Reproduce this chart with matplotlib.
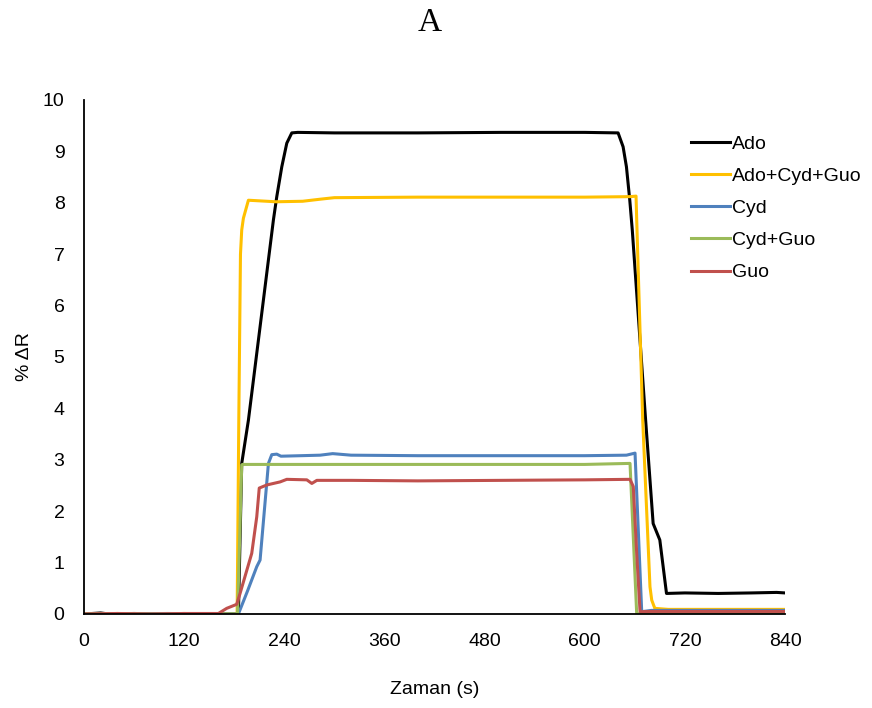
import numpy as np
import matplotlib
matplotlib.use("Agg")
import matplotlib.pyplot as plt

plt.rcParams['font.family'] = ['Liberation Sans', 'DejaVu Sans']

# --- data (time in s, %dR) ---
series_names = ['Ado', 'Ado+Cyd+Guo', 'Cyd', 'Cyd+Guo', 'Guo']
series_colors = ['#000000', '#FFC000', '#4F81BD', '#9BBB59', '#C0504D']

ado_t = [0, 20, 30, 60, 100, 150, 185, 189, 197, 227, 231, 237, 243, 249, 256,
         300, 400, 500, 600, 640, 646, 650, 654, 657, 673, 682, 690, 698,
         720, 760, 800, 830, 840]
ado_v = [0, 0.02, 0, 0.01, 0, 0, 0, 2.93, 3.77, 7.67, 8.12, 8.70, 9.16, 9.36, 9.37,
         9.36, 9.36, 9.37, 9.37, 9.36, 9.09, 8.70, 8.05, 7.47, 3.77, 1.76, 1.44, 0.40,
         0.41, 0.40, 0.41, 0.42, 0.41]

mix_t = [0, 40, 80, 120, 160, 183.5, 185.5, 187.5, 189, 191, 197, 230, 262, 283,
         300, 400, 500, 600, 655, 661.5, 662.3, 669.5, 678.2, 680.3, 684, 700, 760, 840]
mix_v = [0, 0.01, 0, 0.01, 0, 0, 3.8, 7.0, 7.47, 7.7, 8.05, 8.02, 8.03, 8.07,
         8.10, 8.11, 8.11, 8.11, 8.12, 8.13, 7.67, 3.77, 0.53, 0.27, 0.11, 0.09, 0.09, 0.09]

cyd_t = [0, 40, 100, 160, 185, 196, 207, 211, 221, 225, 231, 236, 260, 283, 298,
         320, 400, 500, 600, 650, 660.3, 668.3, 680, 760, 840]
cyd_v = [0, 0, 0.01, 0, 0, 0.45, 0.92, 1.05, 2.93, 3.10, 3.11, 3.07, 3.08, 3.09, 3.12,
         3.09, 3.08, 3.08, 3.08, 3.09, 3.13, 0.045, 0.07, 0.07, 0.07]

cg_t = [0, 60, 120, 184, 189, 190, 300, 400, 500, 600, 654.3, 662.3, 670, 840]
cg_v = [0, 0, 0, 0, 2.9, 2.91, 2.91, 2.91, 2.91, 2.91, 2.93, 0, 0.02, 0.02]

guo_t = [0, 40, 80, 120, 161, 171, 181, 183, 187, 201, 207, 210, 219, 235, 243,
         267, 273, 279, 320, 400, 500, 600, 654.3, 658.2, 662.3, 666.3, 680, 760, 840]
guo_v = [0, 0.01, 0, 0.01, 0.01, 0.11, 0.175, 0.19, 0.40, 1.18, 1.89, 2.45, 2.51, 2.57, 2.62,
         2.61, 2.54, 2.60, 2.60, 2.59, 2.60, 2.61, 2.62, 2.48, 1.18, 0.045, 0.05, 0.05, 0.05]

series_t = [ado_t, mix_t, cyd_t, cg_t, guo_t]
series_v = [ado_v, mix_v, cyd_v, cg_v, guo_v]

x_ticks = [0, 120, 240, 360, 480, 600, 720, 840]
y_ticks = list(range(0, 11))

fig = plt.figure(figsize=(8.72, 7.08), dpi=100)
ax = fig.add_axes([84 / 872, 1 - 614 / 708, (785 - 84) / 872, (614 - 100) / 708])

for t, v, name, c in zip(series_t, series_v, series_names, series_colors):
    ax.plot(t, v, color=c, linewidth=2.2, label=name, solid_joinstyle='round')

ax.set_xlim(0, 840)
ax.set_ylim(0, 10)
ax.set_xticks(x_ticks)
ax.set_yticks(y_ticks)
ax.tick_params(length=0, labelsize=14, pad=14)

for s in ['top', 'right']:
    ax.spines[s].set_visible(False)
for s in ['left', 'bottom']:
    ax.spines[s].set_linewidth(1.3)
    ax.spines[s].set_color('black')

ax.set_xlabel('Zaman (s)', fontsize=14, labelpad=22)
ax.set_ylabel('% ΔR', fontsize=14, labelpad=7)

fig.text(0.493, 0.968, 'A', fontsize=24, family='Liberation Serif',
         ha='center', va='center')

fig.legend(loc='upper left', bbox_to_anchor=(691 / 872, 1 - 135 / 708),
           frameon=False, fontsize=14, handlelength=2.0, handletextpad=0.12,
           labelspacing=0.75, borderpad=0, borderaxespad=0)

fig.savefig('out.png', dpi=100)
